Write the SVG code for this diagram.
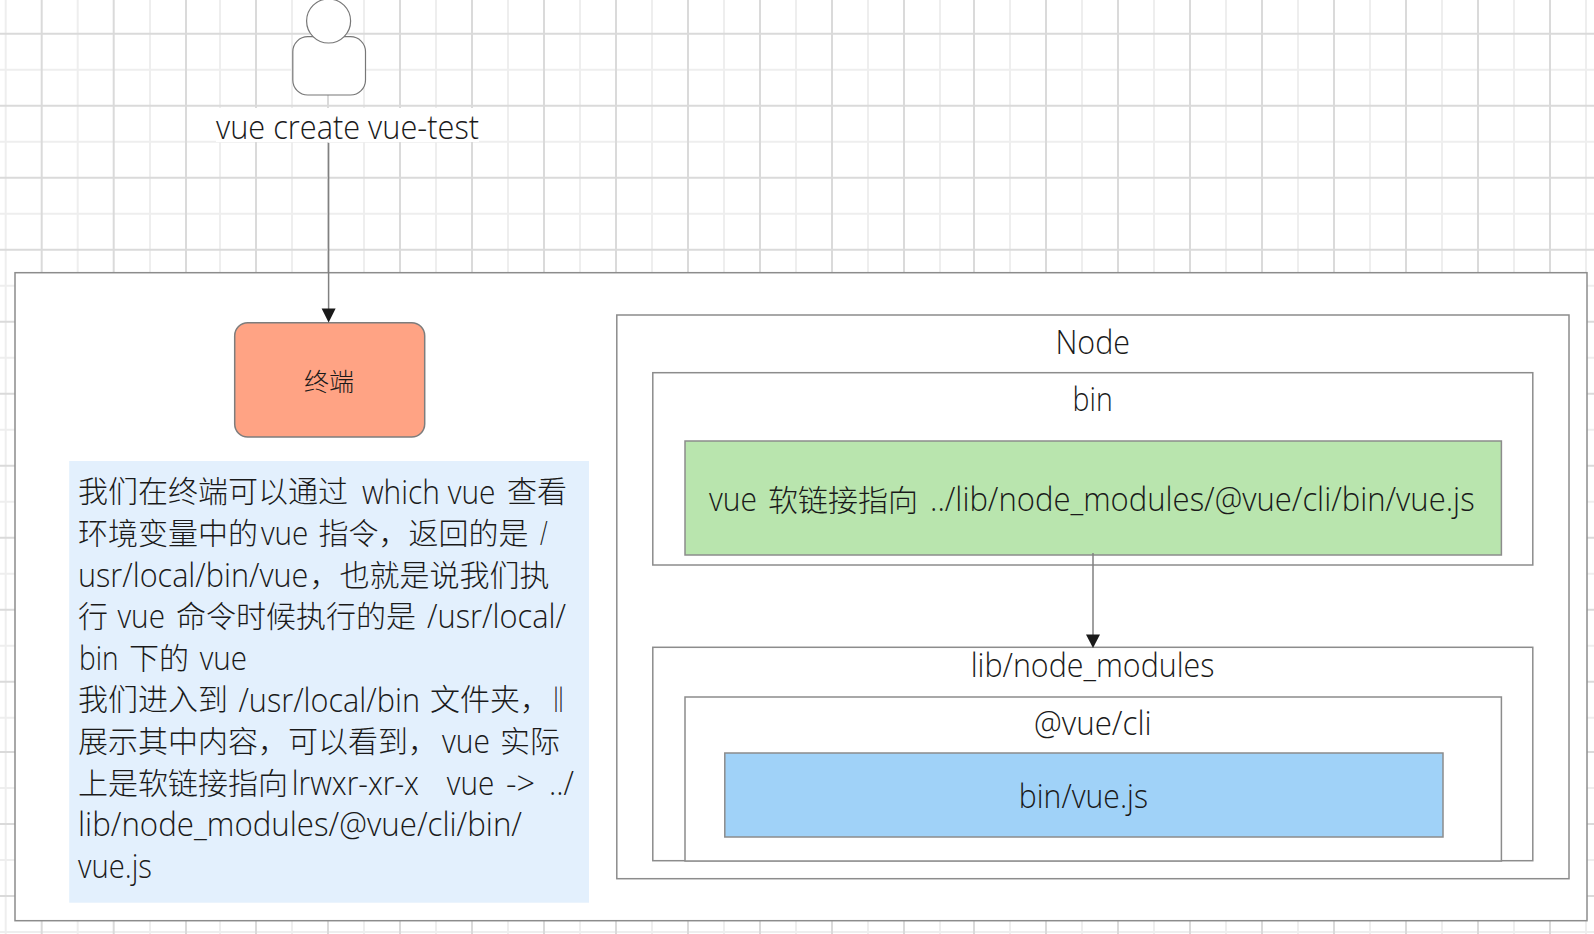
<svg xmlns="http://www.w3.org/2000/svg" width="1594" height="934" viewBox="0 0 1594 934">
<style>
text{font-family:"Open Sans","Noto Sans CJK SC",sans-serif;font-size:30px;fill:#1a1a1a;font-weight:300}
.l{font-size:33px;font-weight:300}
.gs{stroke:#dadada;stroke-width:2;fill:none}
.gl{stroke:#eeeeee;stroke-width:2;fill:none}
.b{fill:#fff;stroke:#8c8c8c;stroke-width:1.5}
.c{stroke:#808080;stroke-width:1.5;fill:none}
.h{fill:#1a1a1a;stroke:none}
</style>
<rect width="1594" height="934" fill="#fff"/>
<g id="grid">
<path class="gl" d="M5.7 0V934M77.7 0V934M150 0V934M220 0V934M292 0V934M364 0V934M436 0V934M508 0V934M580 0V934M652 0V934M724 0V934M796 0V934M868 0V934M940 0V934M1010 0V934M1082 0V934M1154 0V934M1226 0V934M1298 0V934M1370 0V934M1442 0V934M1514 0V934M1586 0V934"/>
<path class="gl" d="M0 69.7H1594M0 141.7H1594M0 213.7H1594M0 285.7H1594M0 357.7H1594M0 429.7H1594M0 501.7H1594M0 573.7H1594M0 645.7H1594M0 717.7H1594M0 788H1594M0 860H1594M0 932H1594"/>
<path class="gs" d="M41.7 0V934M113.7 0V934M186 0V934M256 0V934M328 0V934M400 0V934M472 0V934M544 0V934M616 0V934M688 0V934M760 0V934M832 0V934M904 0V934M974 0V934M1046 0V934M1118 0V934M1190 0V934M1262 0V934M1334 0V934M1406 0V934M1478 0V934M1550 0V934"/>
<path class="gs" d="M0 33.7H1594M0 105.7H1594M0 177.7H1594M0 249.7H1594M0 321.7H1594M0 393.7H1594M0 465.7H1594M0 537.7H1594M0 609.7H1594M0 681.7H1594M0 752H1594M0 824H1594M0 896H1594"/>
</g>
<g id="user">
<rect class="b" x="292.8" y="36.7" width="72.7" height="58.3" rx="15" style="stroke-width:1.2;stroke:#777"/>
<circle class="b" cx="328.6" cy="21" r="22" style="stroke-width:1.2;stroke:#777"/>
</g>
<g id="user-label">
<rect x="216" y="108" width="263" height="34" fill="#fff"/>
<text class="l" x="216" y="138.8" textLength="263" lengthAdjust="spacingAndGlyphs">vue create vue-test</text>
</g>
<g id="outer"><rect class="b" x="15" y="272.7" width="1572" height="648"/></g>
<g id="terminal">
<rect class="b" x="234.7" y="322.7" width="190" height="114.3" rx="13" style="fill:#ffa384;stroke:#7d7d7d"/>
<text x="329" y="390.8" text-anchor="middle" style="font-size:25px">终端</text>
</g>
<g id="note">
<rect x="69.2" y="461" width="519.8" height="441.7" fill="#e3f0fd"/>
<text y="502.3"><tspan x="78">我们在终端可以通过</tspan> <tspan class="l" x="362" y="503.6" textLength="133.5" lengthAdjust="spacingAndGlyphs">which vue</tspan> <tspan x="507" y="502.3">查看</tspan></text>
<text y="543.9"><tspan x="78">环境变量中的</tspan><tspan class="l" x="261" y="545.2" textLength="47.4" lengthAdjust="spacingAndGlyphs">vue</tspan> <tspan x="318.5" y="543.9">指令，返回的是</tspan> <tspan class="l" x="540" y="545.2" textLength="7.6" lengthAdjust="spacingAndGlyphs">/</tspan></text>
<text y="585.5"><tspan class="l" x="78" y="586.8" textLength="230.4" lengthAdjust="spacingAndGlyphs">usr/local/bin/vue</tspan><tspan x="309.5" y="585.5">，也就是说我们执</tspan></text>
<text y="627.1"><tspan x="78">行</tspan> <tspan class="l" x="117.4" y="628.4" textLength="47.6" lengthAdjust="spacingAndGlyphs">vue</tspan> <tspan x="176" y="627.1">命令时候执行的是</tspan> <tspan class="l" x="427" y="628.4" textLength="139" lengthAdjust="spacingAndGlyphs">/usr/local/</tspan></text>
<text y="668.7"><tspan class="l" x="79" y="670" textLength="39.6" lengthAdjust="spacingAndGlyphs">bin</tspan> <tspan x="129" y="668.7">下的</tspan> <tspan class="l" x="199.7" y="670" textLength="47.3" lengthAdjust="spacingAndGlyphs">vue</tspan></text>
<text y="710.3"><tspan x="78">我们进入到</tspan> <tspan class="l" x="238.4" y="711.6" textLength="181.6" lengthAdjust="spacingAndGlyphs">/usr/local/bin</tspan> <tspan x="430" y="710.3">文件夹，</tspan><tspan class="l" x="553.6" y="711.6" textLength="9.9" lengthAdjust="spacingAndGlyphs">ll</tspan></text>
<text y="751.9"><tspan x="78">展示其中内容，可以看到，</tspan><tspan class="l" x="442" y="753.2" textLength="48" lengthAdjust="spacingAndGlyphs">vue</tspan> <tspan x="500" y="751.9">实际</tspan></text>
<text y="793.5"><tspan x="78">上是软链接指向</tspan><tspan class="l" x="291.8" y="794.8" textLength="127.2" lengthAdjust="spacingAndGlyphs">lrwxr-xr-x</tspan>   <tspan class="l" x="446.8" textLength="47.5" lengthAdjust="spacingAndGlyphs">vue</tspan> <tspan class="l" x="506" textLength="29" lengthAdjust="spacingAndGlyphs">-&gt;</tspan> <tspan class="l" x="549" textLength="25" lengthAdjust="spacingAndGlyphs">../</tspan></text>
<text class="l" x="78" y="836.4" textLength="444" lengthAdjust="spacingAndGlyphs">lib/node_modules/@vue/cli/bin/</text>
<text class="l" x="78" y="878" textLength="74" lengthAdjust="spacingAndGlyphs">vue.js</text>
</g>
<g id="node-box">
<rect class="b" x="616.8" y="315" width="952.2" height="563.7"/>
<text class="l" x="1055.4" y="354.3" textLength="74.6" lengthAdjust="spacingAndGlyphs">Node</text>
</g>
<g id="bin-box">
<rect class="b" x="652.8" y="372.7" width="880" height="192.3"/>
<text class="l" x="1072.6" y="411" textLength="40.2" lengthAdjust="spacingAndGlyphs">bin</text>
</g>
<g id="symlink">
<rect class="b" x="685" y="441" width="816.4" height="114" style="fill:#b9e5ae"/>
<text y="510.7"><tspan class="l" x="709" textLength="48" lengthAdjust="spacingAndGlyphs">vue</tspan> <tspan x="768">软链接指向</tspan> <tspan class="l" x="930" textLength="544.6" lengthAdjust="spacingAndGlyphs">../lib/node_modules/@vue/cli/bin/vue.js</tspan></text>
</g>
<g id="lib-box">
<rect class="b" x="652.8" y="647.3" width="880" height="213.4"/>
<text class="l" x="970.7" y="677" textLength="243.8" lengthAdjust="spacingAndGlyphs">lib/node_modules</text>
</g>
<g id="cli-box">
<rect class="b" x="685" y="697" width="816.4" height="164"/>
<text class="l" x="1034" y="735" textLength="117.6" lengthAdjust="spacingAndGlyphs">@vue/cli</text>
</g>
<g id="vue-js">
<rect class="b" x="724.8" y="753" width="718.2" height="84" style="fill:#a0d2f8"/>
<text class="l" x="1018.8" y="808" textLength="129.2" lengthAdjust="spacingAndGlyphs">bin/vue.js</text>
</g>
<g id="connectors">
<path class="c" d="M328.6 143V310"/>
<path class="h" d="M321.6 308.5H335.6L328.6 322.5Z"/>
<path class="c" d="M1093 553V636"/>
<path class="h" d="M1086 634.5H1100L1093 648Z"/>
</g>
</svg>
